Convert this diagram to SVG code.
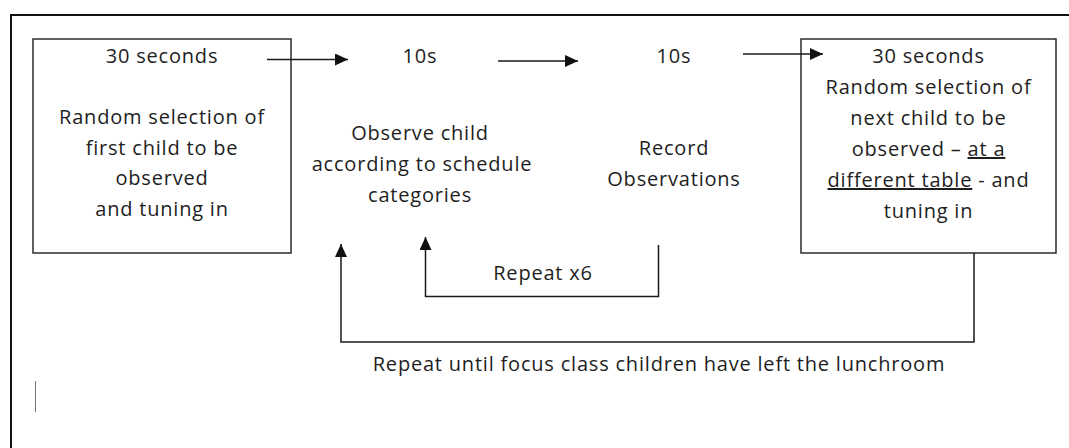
<svg xmlns="http://www.w3.org/2000/svg" width="1069" height="448" viewBox="0 0 1069 448">
  <defs>
    <style>
      .frame { fill: none; stroke: #111; stroke-width: 2; }
      .box { fill: #fff; stroke: #2b2b2b; stroke-width: 1.5; }
      .conn { fill: none; stroke: #1a1a1a; stroke-width: 1.5; }
      .t { font-family: "Open Sans", "Noto Sans", "Liberation Sans", sans-serif; font-size: 20px; letter-spacing: 0.8px; fill: #1e1e1e; text-anchor: middle; }
      .ul { stroke: #1e1e1e; stroke-width: 1.2; }
      .cursor { stroke: #777; stroke-width: 1; }
    </style>
    <marker id="head" markerUnits="userSpaceOnUse" markerWidth="14" markerHeight="12" refX="13" refY="6" orient="auto">
      <path d="M0,0 L13,6 L0,12 Z" fill="#111"/>
    </marker>
  </defs>

  <rect width="1069" height="448" fill="#fff"/>

  <!-- page frame, open to the right and bottom -->
  <path class="frame" d="M11,448 V15 H1069"/>

  <g id="node-first-child">
    <rect class="box" x="33" y="39" width="258" height="214"/>
    <text class="t" x="162" y="63">30 seconds</text>
    <text class="t" x="162" y="124">Random selection of</text>
    <text class="t" x="162" y="155">first child to be</text>
    <text class="t" x="162" y="185">observed</text>
    <text class="t" x="162" y="216">and tuning in</text>
  </g>

  <g id="node-observe">
    <text class="t" x="420" y="63">10s</text>
    <text class="t" x="420" y="140">Observe child</text>
    <text class="t" x="422" y="171">according to schedule</text>
    <text class="t" x="420" y="202">categories</text>
  </g>

  <g id="node-record">
    <text class="t" x="674" y="63">10s</text>
    <text class="t" x="674" y="155">Record</text>
    <text class="t" x="674" y="186">Observations</text>
  </g>

  <g id="node-next-child">
    <rect class="box" x="801" y="39" width="255" height="214"/>
    <text class="t" x="928.5" y="63">30 seconds</text>
    <text class="t" x="928.5" y="94">Random selection of</text>
    <text class="t" x="928.5" y="125">next child to be</text>
    <text class="t" x="928.5" y="156">observed – <tspan text-decoration="underline">at a</tspan></text>
    <text class="t" x="928.5" y="187"><tspan text-decoration="underline">different table</tspan> - and</text>
    <text class="t" x="928.5" y="218">tuning in</text>
  </g>

  <g id="connectors">
    <path class="conn" d="M267,59.5 H348" marker-end="url(#head)"/>
    <path class="conn" d="M498,61 H578" marker-end="url(#head)"/>
    <path class="conn" d="M743,54 H823" marker-end="url(#head)"/>
    <path class="conn" d="M658.5,245 V296.5 H425.5 V237" marker-end="url(#head)"/>
    <path class="conn" d="M974,253 V342 H341 V244" marker-end="url(#head)"/>
    <text class="t" x="543" y="280">Repeat x6</text>
    <text class="t" x="659" y="371">Repeat until focus class children have left the lunchroom</text>
  </g>

  <!-- text insertion caret -->
  <line class="cursor" x1="35.5" y1="381" x2="35.5" y2="412"/>
</svg>
